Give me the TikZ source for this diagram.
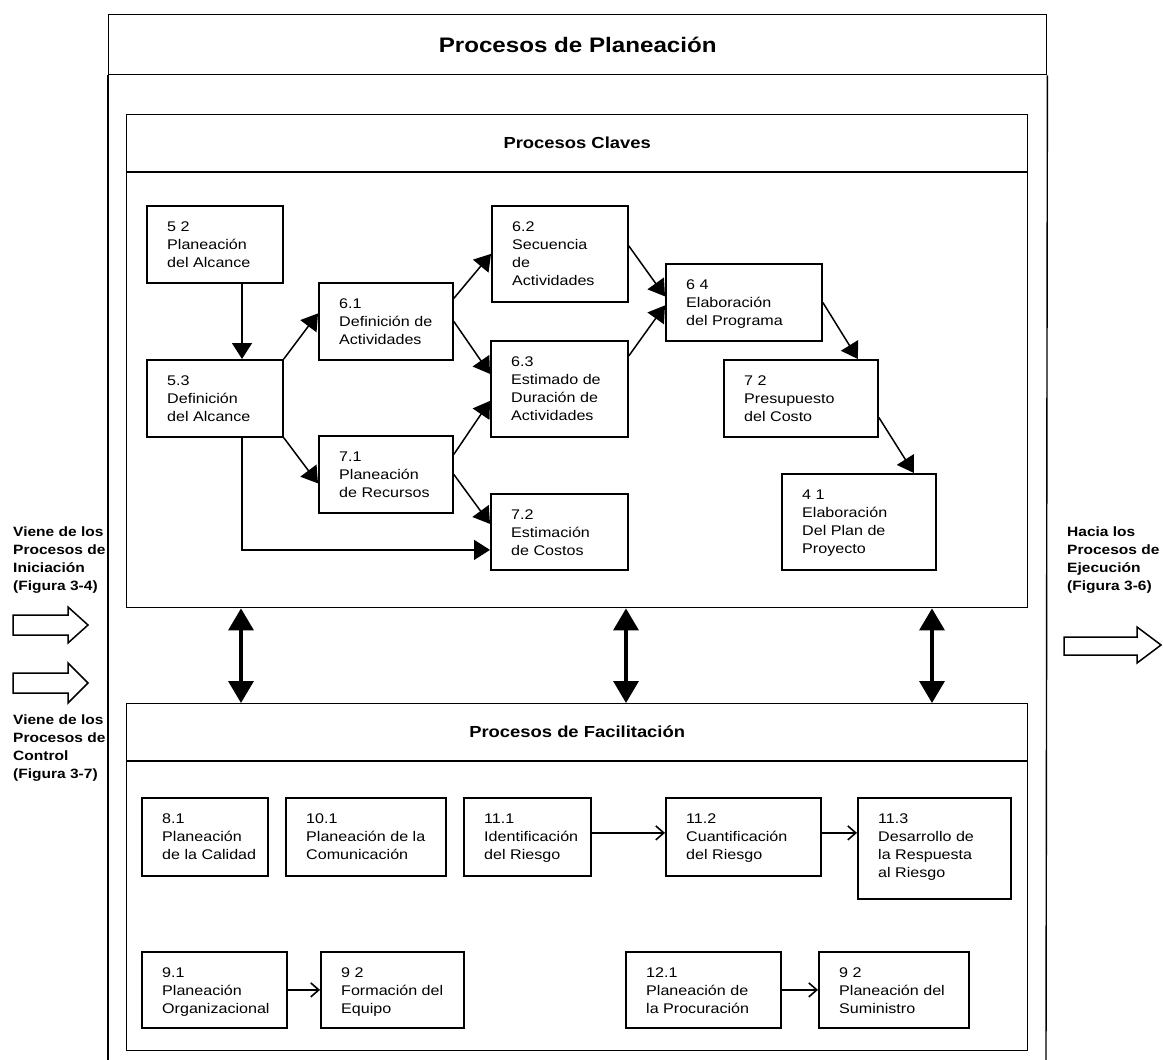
\documentclass[tikz,border=0pt]{standalone}
\usepackage{fontspec}
\setmainfont{Liberation Sans}[FakeStretch=1.15]
\usetikzlibrary{arrows.meta,calc}

\tikzset{
  frame/.style={draw, line width=1.4pt},
  pbox/.style={draw, line width=1.8pt, inner sep=0pt},
  ptext/.style={anchor=north west, align=left, inner sep=0pt, font=\fontsize{14}{18}\selectfont},
  side/.style={anchor=north west, align=left, inner sep=0pt, font=\bfseries\fontsize{13.5}{18}\selectfont},
  head/.style={font=\bfseries\fontsize{16}{20}\selectfont},
  bighead/.style={font=\bfseries\fontsize{21}{25}\selectfont},
  arr/.style={line width=1.5pt, -{Triangle[length=16pt,width=20pt]}},
  dbl/.style={line width=3.5pt, {Triangle[length=22pt,width=25pt]}-{Triangle[length=22pt,width=25pt]}},
  farr/.style={line width=1.6pt, -{Straight Barb[length=8pt,width=14pt]}},
  blockarrow/.style={draw, line width=1.5pt, fill=white},
}

% process box: name, x1, y1, x2, y2, text (pixel-like units, y downwards)
\newcommand\procbox[6]{%
  \node[pbox, anchor=north west, minimum width={(#4)-(#2)}, minimum height={(#5)-(#3)}] (#1) at (#2,#3) {};
  \node[ptext] (#1-t) at ($(#1.north west)+(21,17)$) {#6};}

\begin{document}
\begin{tikzpicture}[x=1pt,y=-1pt]
\useasboundingbox (0,0) rectangle (1163,1060);

% outer frame with title band
\node[frame, anchor=north west, minimum width=938, minimum height=60, inner sep=0pt] (planband) at (108,14) {};
\draw[frame] (planband.south west) -- (108,1060);
\draw[frame] (planband.south east) -- (1046,1060);
\node[bighead] (plantitle) at (planband.center) {Procesos de Planeación};

% key processes frame
\node[frame, anchor=north west, minimum width=901, minimum height=493, inner sep=0pt] (claves) at (126,114) {};
\draw[frame] ($(claves.north west)+(0,58)$) -- ($(claves.north east)+(0,58)$);
\node[head] (clavest) at ($(claves.north)+(0,29)$) {Procesos Claves};

% facilitating processes frame
\node[frame, anchor=north west, minimum width=901, minimum height=347, inner sep=0pt] (facil) at (126,703) {};
\draw[frame] ($(facil.north west)+(0,58)$) -- ($(facil.north east)+(0,58)$);
\node[head] (facilt) at ($(facil.north)+(0,29)$) {Procesos de Facilitación};

% key processes
\procbox{b52}{146}{205}{282}{282}{5 2\\Planeación\\del Alcance}
\procbox{b53}{146}{359}{282}{436}{5.3\\Definición\\del Alcance}
\procbox{b61}{318}{282}{452}{359}{6.1\\Definición de\\Actividades}
\procbox{b71}{318}{435}{452}{512}{7.1\\Planeación\\de Recursos}
\procbox{b62}{491}{205}{627}{301}{6.2\\Secuencia\\de\\Actividades}
\procbox{b63}{490}{340}{627}{436}{6.3\\Estimado de\\Duración de\\Actividades}
\procbox{b72e}{490}{493}{627}{569}{7.2\\Estimación\\de Costos}
\procbox{b64}{665}{263}{821}{340}{6 4\\Elaboración\\del Programa}
\procbox{b72p}{723}{359}{877}{436}{7 2\\Presupuesto\\del Costo}
\procbox{b41}{781}{473}{935}{569}{4 1\\Elaboración\\Del Plan de\\Proyecto}

\coordinate (xa) at (242,0);
\draw[arr] (b52.south -| xa) -- (b53.north -| xa);
\draw[arr] (b53.north east) -- ([yshift=8pt]b61.west);
\draw[arr] (b53.south east) -- ([yshift=-9pt]b71.west);
\draw[arr] (b53.south -| xa) |- ([yshift=-18pt]b72e.west);
\draw[arr] ([yshift=23pt]b61.east) -- (b62.west);
\draw[arr] (b61.east) -- ([yshift=15pt]b63.west);
\draw[arr] ([yshift=20pt]b71.east) -- ([yshift=-12pt]b63.west);
\draw[arr] (b71.east) -- ([yshift=8pt]b72e.west);
\draw[arr] ([yshift=8pt]b62.east) -- ([yshift=6pt]b64.west);
\draw[arr] ([yshift=33pt]b63.east) -- ([yshift=-3pt]b64.west);
\draw[arr] (b64.east) -- ([xshift=57pt]b72p.north);
\draw[arr] ([yshift=-19pt]b72p.east) -- ([xshift=55pt]b41.north);

% links between the two groups
\coordinate (d1) at (241,0);
\coordinate (d2) at (626,0);
\coordinate (d3) at (932,0);
\draw[dbl] (claves.south -| d1) -- (facil.north -| d1);
\draw[dbl] (claves.south -| d2) -- (facil.north -| d2);
\draw[dbl] (claves.south -| d3) -- (facil.north -| d3);

% facilitating processes
\procbox{b81}{141}{797}{267}{875}{8.1\\Planeación\\de la Calidad}
\procbox{b101}{285}{797}{445}{875}{10.1\\Planeación de la\\Comunicación}
\procbox{b111}{463}{797}{590}{875}{11.1\\Identificación\\del Riesgo}
\procbox{b112}{665}{797}{820}{875}{11.2\\Cuantificación\\del Riesgo}
\procbox{b113}{857}{797}{1010}{898}{11.3\\Desarrollo de\\la Respuesta\\al Riesgo}
\procbox{b91}{141}{951}{286}{1027}{9.1\\Planeación\\Organizacional}
\procbox{b92}{320}{951}{463}{1027}{9 2\\Formación del\\Equipo}
\procbox{b121}{625}{951}{780}{1027}{12.1\\Planeación de\\la Procuración}
\procbox{b92s}{818}{951}{968}{1027}{9 2\\Planeación del\\Suministro}

\coordinate (r1) at ([yshift=4pt]b111.east);
\coordinate (r2) at ([yshift=4pt]b112.east);
\draw[farr] (r1) -- (r1 -| b112.west);
\draw[farr] (r2) -- (r2 -| b113.west);
\draw[farr] (b91.east) -- (b92.west);
\draw[farr] (b121.east) -- (b92s.west);

% incoming and outgoing flows
\node[side] (inL) at (13,527) {Viene de los\\Procesos de\\Iniciación\\(Figura 3-4)};
\node[side] (ctlL) at (13,715) {Viene de los\\Procesos de\\Control\\(Figura 3-7)};
\node[side] (ejR) at (1067,527) {Hacia los\\Procesos de\\Ejecución\\(Figura 3-6)};

\draw[blockarrow] (13,615) -- (68,615) -- (68,607) -- (88,625) -- (68,643) -- (68,635) -- (13,635) -- cycle;
\draw[blockarrow] (13,673) -- (68,673) -- (68,663) -- (88,683) -- (68,703) -- (68,693) -- (13,693) -- cycle;
\draw[blockarrow] (1064,637) -- (1137,637) -- (1137,627) -- (1161,645) -- (1137,663) -- (1137,655) -- (1064,655) -- cycle;
\end{tikzpicture}
\end{document}
